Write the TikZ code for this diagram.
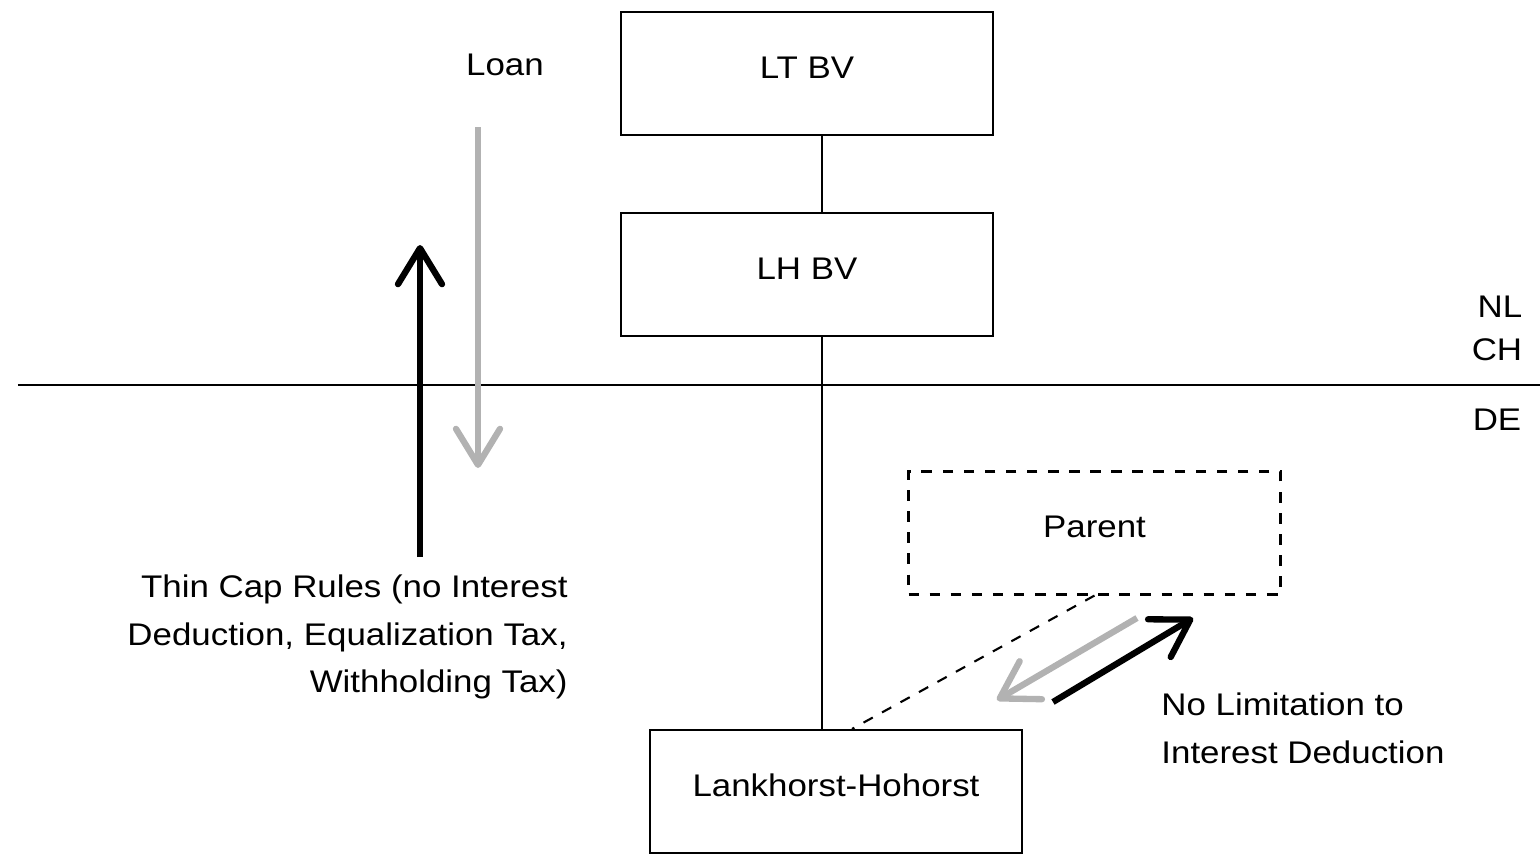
\documentclass[tikz,border=0pt]{standalone}
\usepackage{fontspec}
\setmainfont{Liberation Sans}[FakeStretch=1.115]
\usetikzlibrary{arrows.meta}

\begin{document}
\begin{tikzpicture}[
    font=\fontsize{8.9}{13.5}\selectfont,
    entity/.style={draw, semithick, minimum width=3.72cm, minimum height=1.23cm, text depth=3.4pt},
    flow/.style={line width=1.8pt, -{Straight Barb[length=3.6mm, width=4.4mm, round]}}
  ]
    \useasboundingbox (0, 0) rectangle (15.4, 8.53);
    \node[entity] (ltbv) at (8.07, 7.795) {LT BV};
    \node[entity] (lhbv) at (8.07, 5.785) {LH BV};
    \node[entity] (lk) at (8.36, 0.615) {Lankhorst-Hohorst};
    \node[entity, dashed] (parent) at (10.945, 3.2) {Parent};
    \coordinate (spine) at (8.22, 0);
    \draw[semithick] (ltbv.south -| spine) -- (lhbv.north -| spine);
    \draw[semithick] (lhbv.south -| spine) -- (lk.north -| spine);
    \coordinate (bleft) at (0.18, 4.68);
    \coordinate (bright) at (15.4, 4.68);
    \draw[semithick] (bleft) -- (bright);
    \node (nl) at (15.0, 5.46) {NL};
    \node (ch) at (14.97, 5.03) {CH};
    \node (de) at (14.97, 4.33) {DE};
    \draw[semithick, dashed] (parent.south) -- ([xshift=1.6mm]lk.north);
    \node (loan) at (5.05, 7.88) {Loan};
    \coordinate (loantop) at (4.78, 7.26);
    \coordinate (loanbot) at (4.78, 3.85);
    \draw[flow, gray!60] (loantop) -- (loanbot);
    \coordinate (capbot) at (4.20, 2.96);
    \coordinate (captop) at (4.20, 6.08);
    \draw[flow] (capbot) -- (captop);
    \node[anchor=east, align=right] (thincap) at (5.80, 2.16)
        {Thin Cap Rules (no Interest\\Deduction, Equalization Tax,\\Withholding Tax)};
    \coordinate (grayfrom) at (11.37, 2.35);
    \coordinate (grayto) at (9.97, 1.53);
    \draw[flow, gray!60] (grayfrom) -- (grayto);
    \coordinate (blackfrom) at (10.53, 1.51);
    \coordinate (blackto) at (11.93, 2.35);
    \draw[flow] (blackfrom) -- (blackto);
    \node[anchor=west, align=left] (nolimit) at (11.49, 1.245)
        {No Limitation to\\Interest Deduction};
\end{tikzpicture}
\end{document}
